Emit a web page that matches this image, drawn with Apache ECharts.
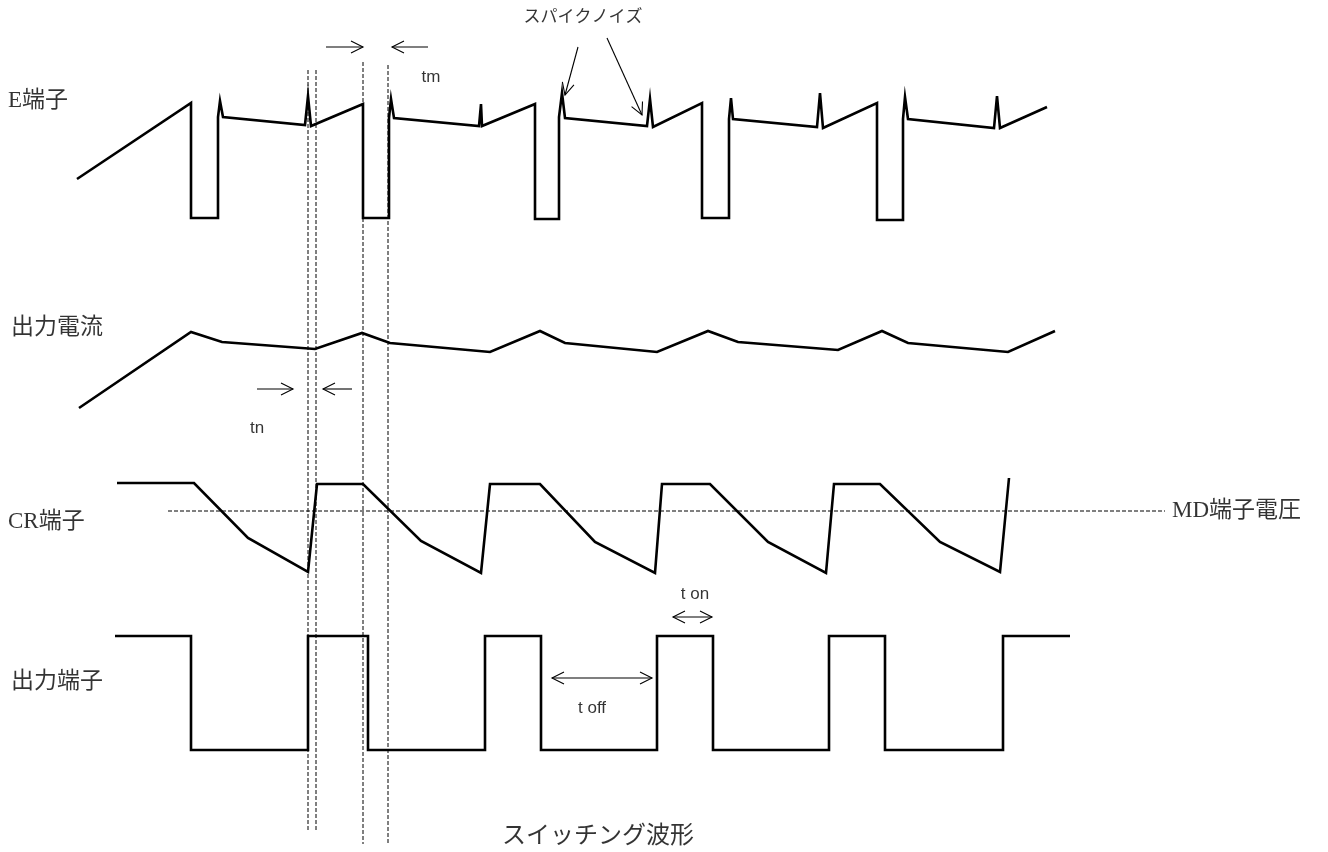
<!DOCTYPE html>
<html>
<head>
<meta charset="utf-8">
<script src="https://cdn.jsdelivr.net/npm/echarts@6/dist/echarts.min.js"></script>
<style>html,body{margin:0;padding:0;background:#fff}#c{width:1328px;height:852px}</style>
</head>
<body>
<div id="c"></div>
<script>
// Waveform traces, in diagram units (time on x, level on y, y grows downward)
const E_TERMINAL = [[77,179],[191,103],[191,218],[218,218],[218,117],[220,101],[223,117],[305,125],[308,96],[311,126],[363,104],[363,218],[389,218],[389,118],[391,99],[394,118],[479,126],[481,104],[482,126],[535,104],[535,219],[559,219],[559,117],[562,93],[565,118],[647,126],[650,99],[653,127],[702,103],[702,218],[729,218],[729,119],[731,98],[733,119],[817,127],[820,93],[823,128],[877,103],[877,220],[903,220],[903,119],[905,97],[908,119],[994,128],[997,96],[1000,128],[1047,107]];
const OUTPUT_CURRENT = [[79,408],[191,332],[222,342],[315,349],[362,333],[390,343],[490,352],[540,331],[565,343],[657,352],[708,331],[738,342],[838,350],[882,331],[908,343],[1008,352],[1055,331]];
const CR_TERMINAL = [[117,483],[194,483],[248,538],[308,572],[317,484],[363,484],[421,541],[481,573],[490,484],[540,484],[595,542],[655,573],[662,484],[710,484],[768,542],[826,573],[834,484],[880,484],[940,542],[1000,572],[1009,478]];
const OUTPUT_TERMINAL = [[115,636],[191,636],[191,750],[308,750],[308,636],[368,636],[368,750],[485,750],[485,636],[541,636],[541,750],[657,750],[657,636],[713,636],[713,750],[829,750],[829,636],[885,636],[885,750],[1003,750],[1003,636],[1070,636]];
const MD_LEVEL = [[168,511],[1165,511]];
// Vertical timing markers: [x, top, bottom]
const MARKERS = [[308,70,832],[316,70,832],[363,62,844],[388,65,844]];
// Arrows: [from, to, doubleHeaded]
const ARROWS = [
  [[326,47],[363,47],false],[[428,47],[392,47],false],
  [[257,389],[293,389],false],[[352,389],[323,389],false],
  [[578,47],[565,95],false],[[607,38],[642,115],false],
  [[673,617],[712,617],true],[[552,678],[652,678],true]
];
// Texts
const SIGNAL_LABELS = [["E端子",8,101],["出力電流",11,328],["CR端子",8,522],["出力端子",11,682],["MD端子電圧",1172,511]];
const NOTE_LABELS = [["tm",431,77],["tn",257,428],["スパイクノイズ",583,17],["t on",695,594],["t off",592,708]];
const TITLE = ["スイッチング波形",598,837];

const series = [];
function poly(data, width, type) {
  series.push({type:'line', data:data, symbol:'none', silent:true, animation:false,
    lineStyle:{color:'#000', width:width, type:type||'solid', cap:'butt', join:'miter'}, z: width>2?3:2});
}
[E_TERMINAL, OUTPUT_CURRENT, CR_TERMINAL, OUTPUT_TERMINAL].forEach(d => poly(d, 2.6));
poly(MD_LEVEL, 1, [4,2]);
MARKERS.forEach(m => poly([[m[0],m[1]],[m[0],m[2]]], 1, [4,2]));
function head(p, q) {
  const dx = q[0]-p[0], dy = q[1]-p[1], L = Math.hypot(dx,dy), ux = dx/L, uy = dy/L;
  const len = 12, w = 6;
  return [[q[0]-ux*len - uy*w, q[1]-uy*len + ux*w], q, [q[0]-ux*len + uy*w, q[1]-uy*len - ux*w]];
}
ARROWS.forEach(a => {
  poly([a[0],a[1]], 1.1);
  poly(head(a[0],a[1]), 1.1);
  if (a[2]) poly(head(a[1],a[0]), 1.1);
});
const serif = '"Liberation Serif","Noto Sans CJK JP",serif';
const sans = '"Liberation Sans","Noto Sans CJK JP",sans-serif';
function texts(list, font, size, align) {
  series.push({type:'scatter', symbolSize:0, silent:true, animation:false,
    data: list.map(t => ({value:[t[1],t[2]], name:t[0]})),
    label:{show:true, position:'inside', formatter:p=>p.name, color:'#000', textBorderWidth:0, fontFamily:font, fontSize:size, align:align, verticalAlign:'middle'}});
}
texts(SIGNAL_LABELS, serif, 23, 'left');
texts(NOTE_LABELS, sans, 17, 'center');
texts([TITLE], serif, 24, 'center');

const chart = echarts.init(document.getElementById('c'), null, {renderer:'canvas'});
chart.setOption({
  backgroundColor:'#fff', animation:false,
  grid:{left:0,right:0,top:0,bottom:0},
  xAxis:{type:'value', min:0, max:1328, show:false},
  yAxis:{type:'value', min:0, max:852, inverse:true, show:false},
  series: series
});
</script>
</body>
</html>
